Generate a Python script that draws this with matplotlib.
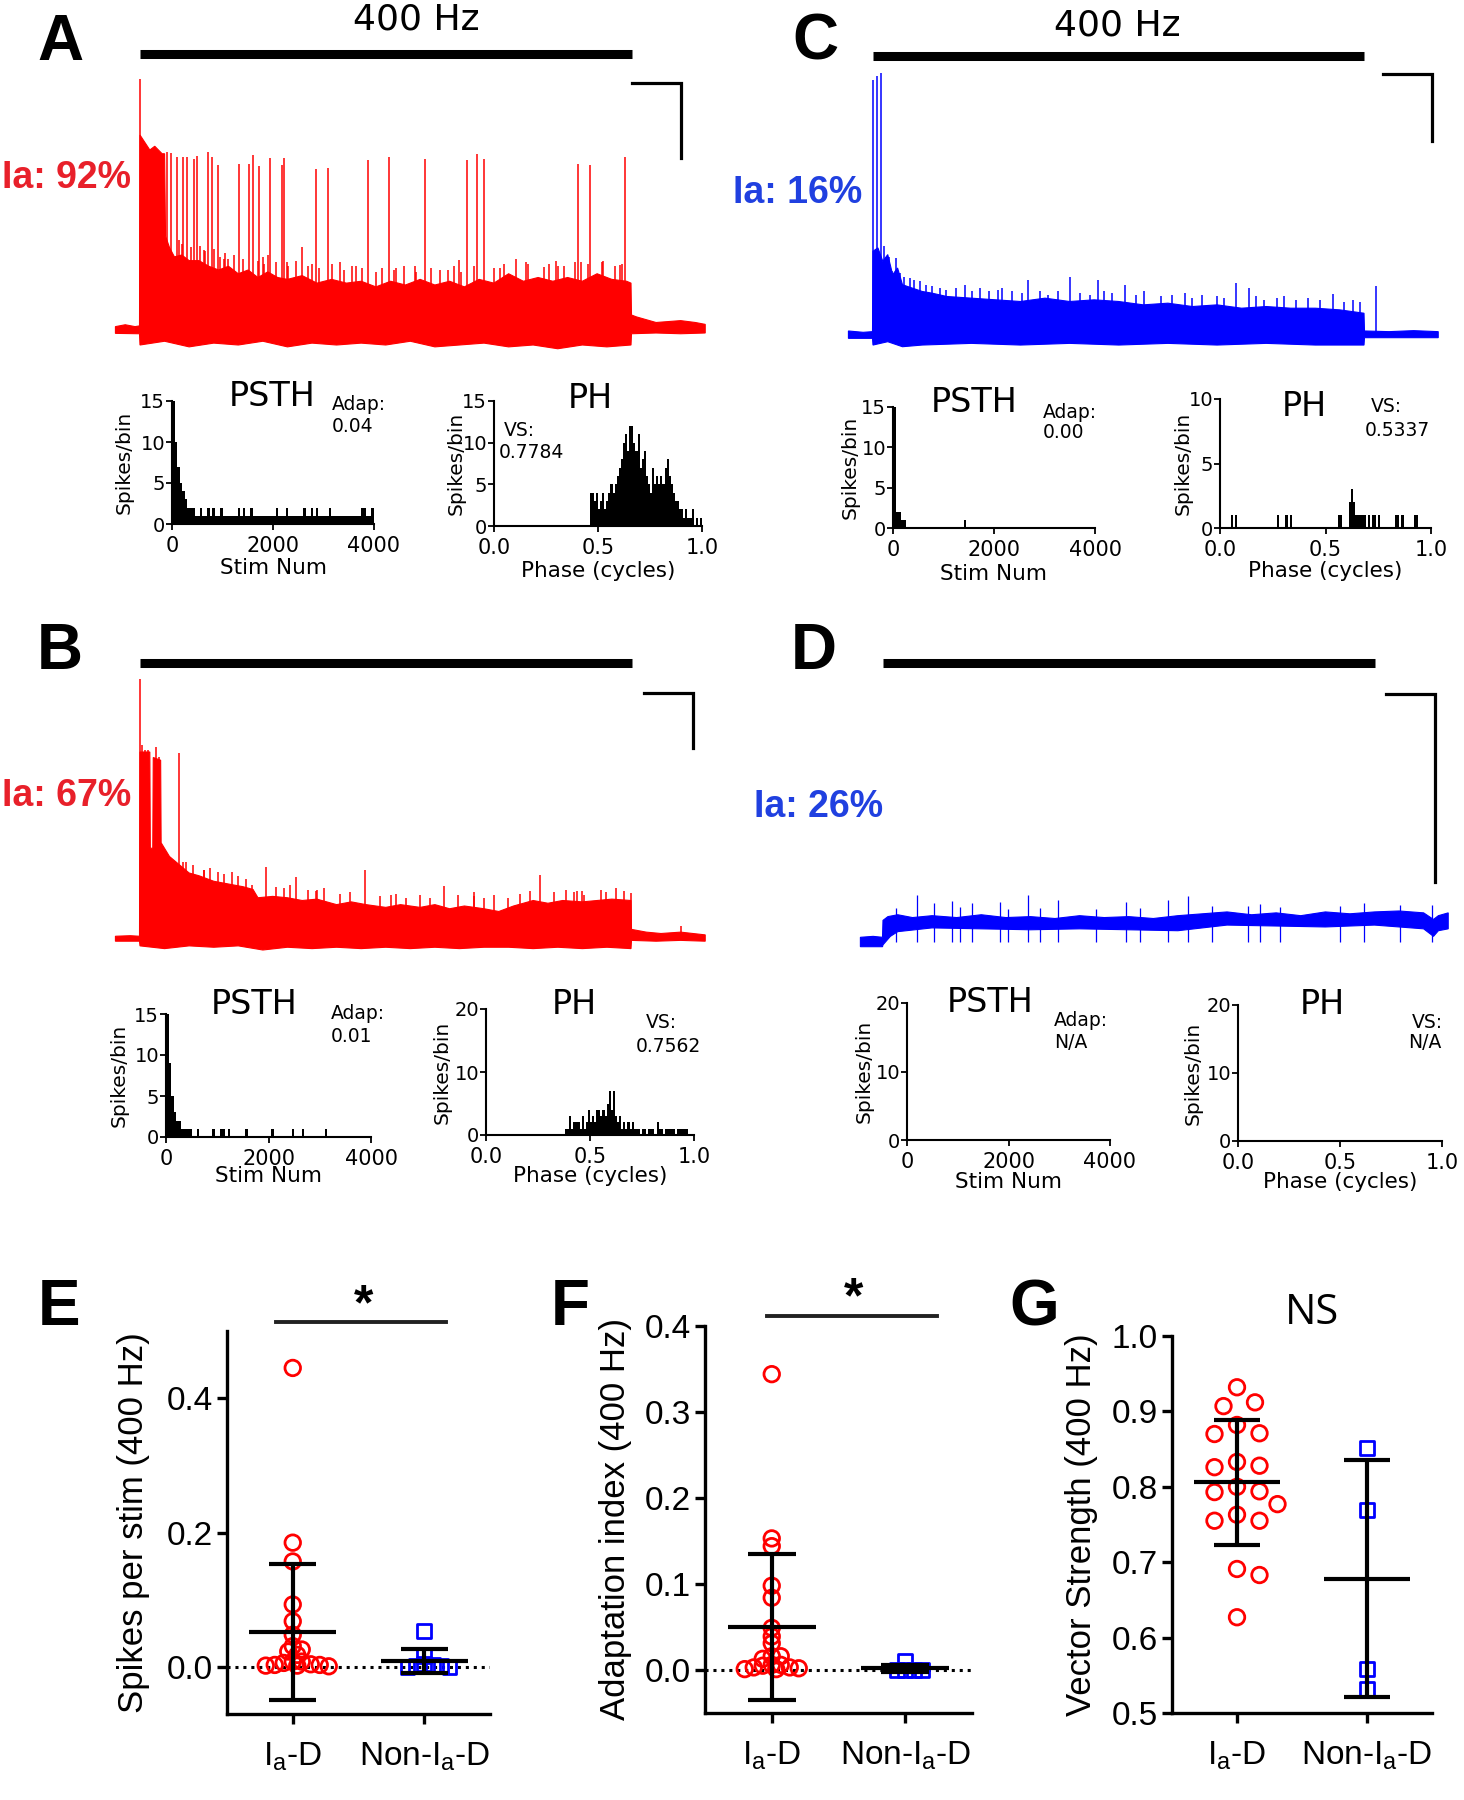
import numpy as np
import matplotlib
matplotlib.use("Agg")
import matplotlib.pyplot as plt

# ------------------------------------------------------------------ data
# membrane-potential traces (t in s from stimulus onset, v in mV above rest)
A_top_t = [-0.5, -0.3, -0.1, -0.01,
           0.0, 0.1, 0.2, 0.3, 0.45, 0.5, 0.52, 0.6, 0.7, 0.85,
           1.0, 1.2, 1.4, 1.6, 1.8,
           2.0, 2.2, 2.4, 2.6, 2.8,
           3.0, 3.3, 3.6, 3.9,
           4.2, 4.5, 4.8,
           5.1, 5.4, 5.7,
           6.0, 6.3, 6.6, 6.9,
           7.2, 7.5, 7.8,
           8.1, 8.4, 8.7,
           9.0, 9.3, 9.6, 9.9, 9.99,
           10.0, 10.1, 10.5, 11.0, 11.3, 11.5]
A_top_v = [0.9, 1.4, 0.9, 1.1,
           52, 50, 48, 49, 47, 47, 25, 22, 19.5, 20,
           18.5, 18.5, 17, 16, 17,
           15, 16, 14, 15.5, 14,
           13.5, 14.5, 12.5, 13.5,
           12.5, 13, 11.5,
           13, 12, 13.5,
           12, 13, 11.5, 13.5,
           12.5, 15, 13,
           14, 13, 14,
           13, 15, 13.5, 13, 12.5,
           4, 3.5, 2, 2.5, 2, 1.5]
A_bot_t = [-0.5, -0.01, 0.0, 0.5, 1.0, 1.5, 2.0, 2.5, 3.0, 3.5, 4.0, 4.5, 5.0, 5.5,
           6.0, 6.5, 7.0, 7.5, 8.0, 8.5, 9.0, 9.5, 9.99, 10.0, 10.5, 11.0, 11.5]
A_bot_v = [-0.9, -1.0, -4.0, -3.0, -4.5, -3.5, -4.0, -3.0, -4.5, -3.5, -4.0, -3.5, -4.0, -3.0,
           -4.5, -4.0, -3.5, -4.5, -4.0, -5.0, -4.0, -4.5, -4.0, -1.0, -0.8, -1.0, -0.8]
A_spk_t = [0.0, 0.55, 0.63, 0.75, 0.88, 0.96, 1.10, 1.15, 1.38, 1.46,
           1.59, 2.01, 2.21, 2.30, 2.42, 2.64, 2.89, 2.93, 3.59, 3.83,
           4.63, 5.06, 5.80, 6.65, 6.86, 7.00, 8.92, 9.15, 9.87,
           1.30, 2.60, 3.29, 4.07, 6.50, 7.64, 8.21, 8.86, 9.76,
           0.80, 1.70, 2.50, 3.00, 3.50, 4.40, 5.20, 5.60, 6.10, 7.20, 7.90, 8.50, 9.40,
           0.85, 1.04, 1.22, 1.32, 1.50, 1.63, 1.72, 1.80, 1.91, 2.10,
           2.40, 2.52, 2.76, 3.01, 3.17, 3.41, 3.64, 3.90, 4.15, 4.31,
           4.51, 4.80, 4.92, 5.16, 5.37, 5.61, 5.93, 6.26, 6.38, 6.54,
           6.79, 7.32, 7.40, 7.85, 8.33, 8.46, 8.62, 8.98, 9.11, 9.43, 9.67, 9.80]
A_spk_v = [66.8, 47.5, 47.3, 46.0, 46.2, 46.0, 45.5, 46.5, 47.5, 46.0,
           44.0, 44.2, 44.2, 46.7, 43.6, 45.8, 44.0, 45.8, 42.9, 43.1,
           45.2, 46.0, 45.7, 45.3, 46.9, 45.5, 44.2, 43.9, 46.1,
           21.3, 20.0, 22.2, 18.0, 18.7, 18.8, 16.9, 18.0, 17.3,
           24.0, 19.0, 19.5, 18.0, 17.5, 17.0, 16.5, 17.0, 16.0, 16.5, 17.5, 17.0, 18.0,
           23.0, 22.0, 22.5, 21.0, 21.5, 19.5, 20.5, 19.0, 20.0, 19.0,
           18.5, 17.5, 18.0, 17.0, 18.5, 17.0, 16.5, 17.5, 16.0, 17.0,
           16.5, 15.5, 16.5, 16.0, 17.0, 15.5, 16.5, 16.0, 17.0, 15.5,
           17.0, 16.5, 17.5, 18.0, 17.5, 18.5, 17.0, 18.0, 17.5, 18.5, 17.0, 17.5]

B_top_t = [-0.5, -0.2, -0.01,
           0.0, 0.2, 0.21, 0.26, 0.27, 0.42, 0.43, 0.6, 0.8,
           1.0, 1.2, 1.5, 1.8,
           2.1, 2.3, 2.4, 2.7,
           3.0, 3.3, 3.6,
           4.0, 4.3, 4.6,
           5.0, 5.3, 5.7,
           6.0, 6.3, 6.6,
           7.0, 7.3, 7.6,
           8.0, 8.3, 8.6,
           9.0, 9.3, 9.6, 9.99,
           10.0, 10.3, 10.6, 11.0, 11.5]
B_top_v = [1.0, 1.2, 1.0,
           68, 68, 33, 33, 66, 65, 35, 30, 27,
           24, 23, 21, 20,
           19, 18, 15, 15.5,
           15, 14, 14.5,
           12.5, 13.5, 12.5,
           11.5, 12.5, 11.5,
           12.5, 11, 12,
           11, 10, 12,
           14, 13, 14,
           13.5, 14, 14.5, 14,
           3.5, 2.5, 2, 2.5, 1.5]
B_bot_t = [-0.5, -0.01, 0.0, 0.5, 1.0, 1.5, 2.0, 2.5, 3.0, 3.5, 4.0, 4.5, 5.0, 5.5,
           6.0, 6.5, 7.0, 7.5, 8.0, 8.5, 9.0, 9.5, 9.99, 10.0, 10.5, 11.0, 11.5]
B_bot_v = [-0.8, -0.8, -2.5, -3.5, -2.5, -3.0, -2.5, -4.0, -3.0, -3.5, -3.0, -3.5, -3.0, -3.5,
           -3.0, -3.5, -3.0, -3.0, -3.5, -3.0, -3.5, -3.0, -3.5, -0.5, -0.8, -0.5, -0.8]
B_spk_t = [0.0, 0.04, 0.10, 0.16, 0.33, 0.39, 0.79, 0.87, 1.87, 2.28,
           2.57, 3.18, 4.58, 6.19, 7.74, 8.14, 9.04, 9.98, 11.0,
           1.3, 3.6, 5.1, 6.8, 8.9,
           0.49, 0.61, 0.94, 1.07, 1.30, 1.42, 1.59, 1.71, 1.99, 2.16,
           2.77, 2.93, 3.05, 3.42, 3.58, 3.75, 4.07, 4.28, 4.89, 5.21,
           5.42, 5.70, 5.90, 6.47, 6.80, 7.00, 7.21, 7.49, 7.94, 8.43,
           8.67, 8.84, 9.00, 9.37, 9.49, 9.69, 9.85]
B_spk_v = [94.4, 70.5, 68.7, 68.7, 70.0, 66.3, 67.5, 28.1, 24.5, 19.6,
           26.1, 22.7, 25.1, 19.4, 16.3, 23.2, 16.0, 16.9, 4.7,
           25.0, 18.0, 16.0, 17.0, 17.5,
           32.0, 30.0, 28.0, 27.0, 25.0, 26.0, 24.5, 23.5, 23.0, 22.0,
           19.0, 18.5, 19.5, 18.0, 17.5, 18.5, 16.5, 17.0, 15.5, 16.5,
           15.0, 16.0, 15.0, 16.0, 15.5, 15.0, 16.0, 15.0, 17.5, 17.0,
           18.0, 17.0, 17.5, 18.0, 17.0, 18.5, 17.5]

C_top_t = [-0.5, -0.2, -0.01,
           0.0, 0.1, 0.2, 0.3, 0.4, 0.5, 0.6, 0.8,
           1.0, 1.2, 1.5,
           2.0, 2.5, 3.0, 3.5, 4.0, 4.5, 5.0, 5.5, 6.0, 6.5, 7.0, 7.5, 8.0, 8.5, 9.0, 9.5, 9.99,
           10.0, 10.5, 11.0, 11.5]
C_top_v = [1.2, 0.8, 1.0,
           25, 26, 22, 24, 18, 20, 15, 14,
           13, 12.5, 11.5,
           11, 10.5, 10, 11, 10, 10.5, 10, 9, 9.5, 8.5, 9, 8, 8.5, 8, 8, 7.5, 6.5,
           1.2, 1.0, 1.3, 1.0]
C_bot_t = [-0.5, -0.01, 0.0, 0.3, 0.6, 1.0, 2.0, 3.0, 4.0, 5.0, 6.0, 7.0, 8.0, 9.0, 9.99, 10.0, 11.5]
C_bot_v = [-1.0, -1.0, -3.0, -2.0, -3.5, -3.0, -2.5, -3.0, -2.5, -3.0, -2.5, -3.0, -2.5, -3.0, -3.0, -0.8, -0.8]
C_spk_t = [0.01, 0.08, 0.17, 0.23, 0.33, 0.47, 0.64, 0.84, 1.37, 1.87,
           2.63, 3.16, 4.01, 4.57, 5.13, 7.39, 7.64, 9.35, 9.90, 10.24,
           0.31, 0.39, 0.55, 0.76, 0.96, 1.08, 1.21, 1.49, 1.69, 2.02,
           2.18, 2.35, 2.55, 2.83, 3.04, 3.40, 3.57, 3.77, 4.22, 4.42,
           4.71, 4.87, 5.36, 5.52, 5.85, 6.09, 6.34, 6.50, 6.70, 6.99,
           7.15, 7.80, 7.96, 8.21, 8.37, 8.61, 8.86, 9.10, 9.59, 9.76]
C_spk_v = [76.0, 77.3, 78.3, 26.6, 23.4, 22.9, 17.2, 16.4, 14.0, 15.0,
           14.0, 16.4, 17.4, 16.4, 15.0, 15.4, 14.0, 12.3, 10.0, 14.5,
           20.0, 19.0, 18.5, 17.0, 16.0, 15.0, 14.5, 13.5, 14.0, 13.0,
           14.0, 13.0, 13.5, 13.0, 12.5, 13.0, 12.0, 13.0, 12.5, 12.0,
           13.0, 12.5, 12.0, 13.0, 11.5, 12.0, 12.5, 11.0, 12.0, 11.5,
           11.0, 11.5, 10.5, 11.0, 11.5, 10.5, 11.0, 10.5, 10.0, 10.5]

D_top_t = [-0.46, -0.2, -0.01, 0.0, 0.1, 0.3, 0.6, 1.0, 1.5, 2.0, 2.5, 3.0, 3.5, 4.0, 4.5,
           5.0, 5.5, 6.0, 6.5, 7.0, 7.5, 8.0, 8.5, 9.0, 9.5, 10.0, 10.5, 11.0, 11.2, 11.3, 11.5]
D_top_v = [0.5, 0.6, 0.5, 2.3, 2.7, 2.9, 2.6, 2.8, 2.6, 2.9, 2.6, 2.7, 2.5, 2.8, 2.6,
           2.7, 2.5, 2.8, 3.0, 3.2, 2.9, 3.1, 2.8, 3.2, 3.0, 3.2, 3.3, 3.1, 2.4, 2.8, 3.1]
D_bot_t = [-0.46, -0.01, 0.0, 0.15, 0.3, 1.0, 2.0, 3.0, 4.0, 5.0, 6.0, 7.0, 8.0, 9.0,
           10.0, 10.5, 11.0, 11.2, 11.3, 11.5]
D_bot_v = [-0.5, -0.5, -0.3, 0.6, 1.1, 1.5, 1.4, 1.3, 1.4, 1.3, 1.2, 1.8, 1.7, 1.6,
           1.8, 1.6, 1.4, 0.6, 1.2, 1.4]
D_spk_t = [0.69, 1.04, 1.41, 1.81, 2.38, 2.94, 3.56, 4.95, 5.80, 6.21, 6.70, 7.67, 9.79, 11.17,
           0.27, 1.57, 2.55, 3.20, 4.34, 5.23, 7.43, 8.08, 9.30, 10.52]
D_spk_v = [5.0, 4.1, 4.4, 4.2, 4.3, 5.0, 4.5, 4.3, 4.5, 4.9, 3.8, 4.0, 4.2, 3.9,
           3.6, 3.7, 3.5, 3.6, 3.5, 3.6, 3.8, 3.7, 3.8, 3.9]

ia_labels = ["Ia: 92%", "Ia: 67%", "Ia: 16%", "Ia: 26%"]

# PSTH: spikes per 50-stimulus bin (80 bins, 0-4000)
PSTH_BIN = 50
psth_A = [15, 10, 7, 5, 4, 3, 2, 2, 2, 1,
          1, 2, 1, 1, 2, 1, 2, 1, 1, 2,
          1, 1, 1, 1, 1, 1, 2, 1, 2, 1,
          1, 2, 1, 1, 1, 1, 1, 1, 1, 1,
          1, 2, 1, 1, 1, 2, 1, 1, 1, 1,
          1, 1, 2, 1, 1, 2, 1, 2, 1, 1,
          1, 1, 2, 1, 1, 1, 1, 1, 1, 1,
          1, 1, 1, 1, 1, 2, 2, 1, 1, 2]
psth_B = [15, 9, 5, 3, 2, 2, 1, 1, 1, 1,
          0, 0, 1, 0, 0, 0, 0, 0, 1, 0,
          0, 1, 1, 0, 1, 0, 0, 0, 0, 0,
          0, 1, 0, 0, 0, 0, 0, 0, 0, 0,
          0, 1, 0, 0, 0, 0, 0, 0, 0, 1,
          0, 0, 0, 1, 0, 0, 0, 0, 0, 0,
          0, 0, 1, 0, 0, 0, 0, 0, 0, 0,
          0, 0, 0, 0, 0, 0, 0, 0, 0, 0]
psth_C = [15, 2, 2, 1, 1, 0, 0, 0, 0, 0,
          0, 0, 0, 0, 0, 0, 0, 0, 0, 0,
          0, 0, 0, 0, 0, 0, 0, 0, 1, 0,
          0, 0, 0, 0, 0, 0, 0, 0, 0, 0,
          0, 0, 0, 0, 0, 0, 0, 0, 0, 0,
          0, 0, 0, 0, 0, 0, 0, 0, 0, 0,
          0, 0, 0, 0, 0, 0, 0, 0, 0, 0,
          0, 0, 0, 0, 0, 0, 0, 0, 0, 0]
psth_D = [0] * 80

# Phase histograms: spikes per 0.01-cycle bin (100 bins)
PH_BIN = 0.01
ph_A = [0] * 46 + [4, 4, 3, 4, 2, 3, 4, 2, 3, 4,
                   5, 4, 5, 6, 7, 8, 10, 11, 9, 12,
                   12, 10, 9, 11, 7, 8, 9, 6, 5, 4,
                   7, 5, 6, 5, 6, 5, 7, 8, 6, 5,
                   4, 3, 3, 2, 2, 1, 2, 1, 1, 2,
                   0, 1, 0, 1]
ph_B = [0] * 38 + [1, 1,
                   3, 1, 2, 2, 2, 1, 3, 1, 2, 4,
                   2, 3, 2, 4, 4, 3, 4, 3, 5, 7,
                   4, 7, 3, 2, 3, 1, 2, 1, 2, 1,
                   2, 1, 1, 1, 0, 1, 1, 0, 1, 1,
                   1, 0, 2, 1, 1, 0, 1, 1, 1, 1,
                   1, 0, 1, 1, 1, 1, 1, 0, 0, 0]
ph_C = [0, 0, 0, 0, 0, 1, 0, 1, 0, 0,
        0, 0, 0, 0, 0, 0, 0, 0, 0, 0,
        0, 0, 0, 0, 0, 0, 0, 1, 0, 0,
        0, 1, 0, 1, 0, 0, 0, 0, 0, 0,
        0, 0, 0, 0, 0, 0, 0, 0, 0, 0,
        0, 0, 0, 0, 0, 0, 1, 1, 0, 0,
        0, 2, 3, 2, 1, 1, 1, 1, 1, 0,
        1, 0, 1, 1, 0, 1, 0, 0, 0, 0,
        0, 0, 0, 1, 1, 0, 1, 0, 0, 0,
        0, 0, 1, 1, 0, 0, 0, 0, 0, 0]
ph_D = [0] * 100

adap_text = ["0.04", "0.01", "0.00", "N/A"]
vs_text = ["0.7784", "0.7562", "0.5337", "N/A"]

# Population data
groups = [r"I$_a$-D", r"Non-I$_a$-D"]
E_ia = [0.445, 0.185, 0.157, 0.093, 0.068, 0.048, 0.031, 0.026, 0.023, 0.018,
        0.008, 0.008, 0.006, 0.004, 0.003, 0.003, 0.002, 0.002, 0.001]
E_non = [0.053, 0.016, 0.004, 0.003, 0.002, 0.001, 0.0, 0.0]
E_mean = [0.052, 0.009]
E_sd = [0.101, 0.018]
F_ia = [0.344, 0.153, 0.144, 0.098, 0.084, 0.049, 0.039, 0.031, 0.016, 0.016,
        0.013, 0.006, 0.006, 0.005, 0.003, 0.003, 0.002, 0.001, 0.001]
F_non = [0.010, 0.0, 0.0, 0.0, 0.0]
F_mean = [0.050, 0.002]
F_sd = [0.085, 0.004]
G_ia = [0.932, 0.912, 0.907, 0.882, 0.871, 0.870, 0.833, 0.828, 0.826, 0.800,
        0.794, 0.793, 0.777, 0.763, 0.755, 0.755, 0.691, 0.683, 0.627]
G_non = [0.851, 0.769, 0.558, 0.532]
G_mean = [0.806, 0.678]
G_sd = [0.083, 0.157]

# ------------------------------------------------------------------ layout helpers
W, H = 1464, 1800
plt.rcParams['font.family'] = ['Liberation Sans', 'DejaVu Sans']
plt.rcParams['mathtext.fontset'] = 'custom'
plt.rcParams['mathtext.rm'] = 'Liberation Sans'
plt.rcParams['mathtext.it'] = 'Liberation Sans:italic'
plt.rcParams['mathtext.default'] = 'rm'

fig = plt.figure(figsize=(W / 100, H / 100), dpi=100)
fig.patch.set_facecolor('white')

RED_T, BLUE_T = '#e8202a', '#2040e0'
RED, BLUE = '#ff0000', '#0000ff'
SMALL_FONT = 'DejaVu Sans'


def rect(x0, y_top, x1, y_bot):
    return [x0 / W, 1 - y_bot / H, (x1 - x0) / W, (y_bot - y_top) / H]


def ftext(x, y, s, **kw):
    return fig.text(x / W, 1 - y / H, s, **kw)


PPS = 49.15  # pixels per second on the trace time axis


def trace_panel(onset_x, base_y, ppmv, top_t, top_v, bot_t, bot_v, spk_t, spk_v,
                color, bar_y, sb_t0, sb_y, spk_lw=1.1):
    x_left = onset_x - 0.6 * PPS
    x_right = onset_x + 11.6 * PPS
    y_top = bar_y - 30
    y_bot = base_y + 40
    ax = fig.add_axes(rect(x_left, y_top, x_right, y_bot))
    ax.set_xlim(-0.6, 11.6)
    ax.set_ylim(-(y_bot - base_y) / ppmv, (base_y - y_top) / ppmv)
    ax.axis('off')
    pt = np.concatenate([np.asarray(top_t), np.asarray(bot_t)[::-1]])
    pv = np.concatenate([np.asarray(top_v), np.asarray(bot_v)[::-1]])
    ax.fill(pt, pv, facecolor=color, edgecolor=color, lw=0.8)
    ax.vlines(spk_t, 0, spk_v, color=color, lw=spk_lw)
    bar_v = (base_y - bar_y) / ppmv
    ax.plot([0, 10], [bar_v, bar_v], color='k', lw=6.5, solid_capstyle='butt')
    sb_v = (base_y - sb_y) / ppmv
    ax.plot([sb_t0, sb_t0 + 1, sb_t0 + 1], [sb_v, sb_v, sb_v - 20],
            color='k', lw=2.3, solid_joinstyle='miter')
    return ax


def hist_panel(x0, x1, y_zero, y_top, counts, binw, xmax, ymax, yticks, xticks,
               xticklabels, xlabel, xlabel_y, ylabel_x):
    ax = fig.add_axes(rect(x0, y_top, x1, y_zero))
    left = np.arange(len(counts)) * binw
    ax.bar(left, counts, width=binw, align='edge', color='k', linewidth=0)
    ax.set_xlim(0, xmax)
    ax.set_ylim(0, ymax)
    for s in ('top', 'right'):
        ax.spines[s].set_visible(False)
    for s in ('left', 'bottom'):
        ax.spines[s].set_linewidth(1.5)
    ax.set_yticks(yticks)
    ax.set_yticklabels([str(v) for v in yticks], fontsize=14, family=SMALL_FONT)
    ax.set_xticks(xticks)
    ax.set_xticklabels(xticklabels, fontsize=15, family=SMALL_FONT)
    ax.tick_params(axis='both', length=4, width=1.3)
    ax.tick_params(axis='y', pad=1.0)
    ax.tick_params(axis='x', pad=4.5)
    ax.set_xlabel(xlabel, fontsize=15.5, family=SMALL_FONT)
    ax.set_ylabel('Spikes/bin', fontsize=14.5, family=SMALL_FONT)
    ax.xaxis.set_label_coords(0.5, (y_zero - xlabel_y) / (y_zero - y_top))
    ax.xaxis.label.set_va('center')
    ax.yaxis.set_label_coords((ylabel_x - x0) / (x1 - x0), 0.5)
    ax.yaxis.label.set_va('center')
    return ax


def swarm(vals, xppu, yppu, diam, gap):
    placed, offs = [], []
    step = diam * 0.3
    cands = [0.0]
    for i in range(1, 150):
        cands += [i * step, -i * step]
    for v in vals:
        y = v * yppu
        for c in cands:
            if all((c - px) ** 2 + (y - py) ** 2 >= (diam * gap) ** 2 for px, py in placed):
                break
        placed.append((c, y))
        offs.append(c / xppu)
    return np.array(offs)


def dot_panel(x0, y_top, x1, y_bot, ylim, yticks, ia, non, means, sds, ylabel,
              ylabel_x, gap, zero_line):
    ax = fig.add_axes(rect(x0, y_top, x1, y_bot))
    ax.set_xlim(0.5, 2.5)
    ax.set_ylim(*ylim)
    xppu = (x1 - x0) / 2.0
    yppu = (y_bot - y_top) / (ylim[1] - ylim[0])
    if zero_line:
        ax.axhline(0, color='k', ls=(0, (1, 1.6)), lw=2.2, zorder=1)
    o1 = swarm(ia, xppu, yppu, 15, gap)
    o2 = swarm(non, xppu, yppu, 14, gap)
    ax.scatter(1 + o1, ia, s=125, marker='o', facecolors='none', edgecolors=RED,
               linewidths=2.0, zorder=3)
    ax.scatter(2 + o2, non, s=100, marker='s', facecolors='none', edgecolors=BLUE,
               linewidths=2.0, zorder=3)
    for i, (m, sd) in enumerate(zip(means, sds)):
        xc = i + 1
        ax.hlines(m, xc - 0.33, xc + 0.33, color='k', lw=3, zorder=4)
        ax.vlines(xc, m - sd, m + sd, color='k', lw=3, zorder=4)
        ax.hlines([m - sd, m + sd], xc - 0.18, xc + 0.18, color='k', lw=3, zorder=4)
    for s in ('top', 'right'):
        ax.spines[s].set_visible(False)
    for s in ('left', 'bottom'):
        ax.spines[s].set_linewidth(2.4)
    ax.set_yticks(yticks)
    ax.set_yticklabels(['%.1f' % v for v in yticks], fontsize=24)
    ax.set_xticks([1, 2])
    ax.set_xticklabels(groups, fontsize=24)
    ax.tick_params(length=7, width=2.4)
    ax.tick_params(axis='y', pad=3)
    ax.tick_params(axis='x', pad=12)
    ax.set_ylabel(ylabel, fontsize=25)
    ax.yaxis.set_label_coords((ylabel_x - x0) / (x1 - x0), 0.5)
    ax.yaxis.label.set_va('center')
    return ax


# ------------------------------------------------------------------ traces
trace_panel(140, 330, 3.75, A_top_t, A_top_v, A_bot_t, A_bot_v, A_spk_t, A_spk_v,
            RED, 54, 10.0, 83)
trace_panel(140, 939, 2.75, B_top_t, B_top_v, B_bot_t, B_bot_v, B_spk_t, B_spk_v,
            RED, 663, 10.26, 693)
trace_panel(873, 335, 3.35, C_top_t, C_top_v, C_bot_t, C_bot_v, C_spk_t, C_spk_v,
            BLUE, 56, 10.37, 74)
trace_panel(883, 942, 9.4, D_top_t, D_top_v, D_bot_t, D_bot_v, D_spk_t, D_spk_v,
            BLUE, 663, 10.24, 694, spk_lw=0.9)

ftext(416, 20, '400 Hz', fontsize=26, family=SMALL_FONT, ha='center', va='center')
ftext(1117, 26, '400 Hz', fontsize=26, family=SMALL_FONT, ha='center', va='center')

for (x, y), lab, col in zip([(2, 178), (2, 796), (733, 193), (754, 807)], ia_labels,
                            [RED_T, RED_T, BLUE_T, BLUE_T]):
    ftext(x, y, lab, fontsize=27, fontweight='bold', color=col, ha='left', va='center')

for (x, y), letter in zip([(60, 60), (60, 669), (815, 60), (814, 669),
                           (59, 1325), (570, 1325), (1034, 1325)], 'ABCDEFG'):
    ftext(x, y, letter, fontsize=46, fontweight='bold', ha='center', va='baseline')

# ------------------------------------------------------------------ PSTH / PH
stim_ticks = [0, 2000, 4000]
stim_lbls = ['0', '2000', '4000']
ph_ticks = [0, 0.5, 1.0]
ph_lbls = ['0.0', '0.5', '1.0']

hist_panel(172, 374, 524, 401, psth_A, PSTH_BIN, 4000, 15, [0, 5, 10, 15],
           stim_ticks, stim_lbls, 'Stim Num', 568, 124)
hist_panel(494, 702, 526, 401, ph_A, PH_BIN, 1.0, 15, [0, 5, 10, 15],
           ph_ticks, ph_lbls, 'Phase (cycles)', 571, 456)
hist_panel(893, 1095, 528, 407, psth_C, PSTH_BIN, 4000, 15, [0, 5, 10, 15],
           stim_ticks, stim_lbls, 'Stim Num', 574, 850)
hist_panel(1220, 1431, 528, 399, ph_C, PH_BIN, 1.0, 10, [0, 5, 10],
           ph_ticks, ph_lbls, 'Phase (cycles)', 571, 1183)
hist_panel(166, 371, 1137, 1014, psth_B, PSTH_BIN, 4000, 15, [0, 5, 10, 15],
           stim_ticks, stim_lbls, 'Stim Num', 1176, 119)
hist_panel(486, 694, 1135, 1009, ph_B, PH_BIN, 1.0, 20, [0, 10, 20],
           ph_ticks, ph_lbls, 'Phase (cycles)', 1176, 442)
hist_panel(907, 1110, 1140, 1003, psth_D, PSTH_BIN, 4000, 20, [0, 10, 20],
           stim_ticks, stim_lbls, 'Stim Num', 1182, 864)
hist_panel(1238, 1442, 1141, 1005, ph_D, PH_BIN, 1.0, 20, [0, 10, 20],
           ph_ticks, ph_lbls, 'Phase (cycles)', 1182, 1193)

for x, y, s in [(272, 397, 'PSTH'), (590, 398, 'PH'), (974, 402, 'PSTH'), (1304, 407, 'PH'),
                (254, 1005, 'PSTH'), (574, 1005, 'PH'), (990, 1002, 'PSTH'), (1322, 1005, 'PH')]:
    ftext(x, y, s, fontsize=24, family=SMALL_FONT, ha='center', va='center')

ann_pos = [((332, 405), (332, 427)), ((331, 1013), (331, 1037)),
           ((1043, 413), (1043, 433)), ((1054, 1020), (1054, 1043))]
for ((x1, y1), (x2, y2)), val in zip(ann_pos, adap_text):
    ftext(x1, y1, 'Adap:', fontsize=13.5, family=SMALL_FONT, ha='left', va='center')
    ftext(x2, y2, val, fontsize=13.5, family=SMALL_FONT, ha='left', va='center')
vs_pos = [((504, 430), (499, 452)), ((646, 1023), (636, 1047)),
          ((1371, 406), (1365, 430)), ((1412, 1023), (1408, 1043))]
for ((x1, y1), (x2, y2)), val in zip(vs_pos, vs_text):
    ftext(x1, y1, 'VS:', fontsize=13.5, family=SMALL_FONT, ha='left', va='center')
    ftext(x2, y2, val, fontsize=13.5, family=SMALL_FONT, ha='left', va='center')

# ------------------------------------------------------------------ E, F, G
axE = dot_panel(227, 1331, 490, 1714, (-0.07, 0.5), [0.0, 0.2, 0.4], E_ia, E_non,
                E_mean, E_sd, 'Spikes per stim (400 Hz)', 133, 0.4, True)
axE.plot([0.873, 2.165], [0.513, 0.513], color='#222222', lw=2.8, clip_on=False)
axE.text(1.54, 0.518, '*', fontsize=36, fontweight='bold', ha='center', va='baseline')

axF = dot_panel(705, 1326, 972, 1713, (-0.05, 0.4), [0.0, 0.1, 0.2, 0.3, 0.4], F_ia, F_non,
                F_mean, F_sd, 'Adaptation index (400 Hz)', 615, 0.4, True)
axF.plot([0.964, 2.238], [0.412, 0.412], color='#222222', lw=2.8, clip_on=False)
axF.text(1.616, 0.416, '*', fontsize=36, fontweight='bold', ha='center', va='baseline')

axG = dot_panel(1172, 1336, 1432, 1713, (0.5, 1.0), [0.5, 0.6, 0.7, 0.8, 0.9, 1.0], G_ia, G_non,
                G_mean, G_sd, 'Vector Strength (400 Hz)', 1082, 1.4, False)
axG.text(1.58, 1.03, 'NS', fontsize=30, family='Open Sans', ha='center', va='center',
         clip_on=False)

fig.savefig('out.png', dpi=100, facecolor='white')
